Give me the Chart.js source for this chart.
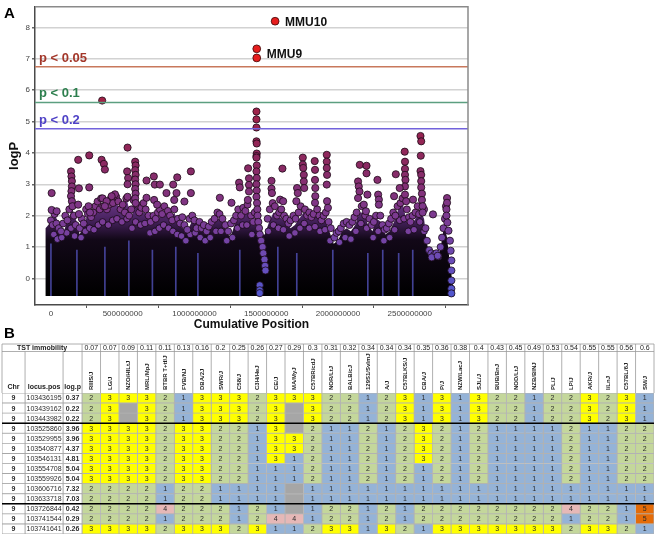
<!DOCTYPE html>
<html>
<head>
<meta charset="utf-8">
<script src="https://cdn.jsdelivr.net/npm/chart.js@4.4.0/dist/chart.umd.min.js"></script>
<style>
  body { margin: 0; background: #fff; width: 662px; height: 537px; overflow: hidden; position: relative; font-family: "Liberation Sans", Arial, sans-serif; }
  #wrapA { position: absolute; left: 0; top: 0; }
  #wrapB { position: absolute; left: 0; top: 343px; }
  .panel { position: absolute; font-weight: bold; font-size: 15px; line-height: 15px; }
</style>
</head>
<body>
<div id="wrapA"><canvas id="manhattan" width="662" height="338"></canvas></div>
<div id="wrapB"><canvas id="genotypes" width="662" height="194"></canvas></div>
<div class="panel" style="left:4px;top:5px">A</div>
<div class="panel" style="left:4px;top:325px">B</div>
<script>
// ---------- panel A : manhattan plot (positions in Mb, values = logP) ----------
const sigPoints = [[1562, 8.2], [1434, 7.32], [1434, 7.03]];
const locusLabels = ['MMU10', 'MMU9'];
const locusLabelAt = [[1562, 8.2], [1434, 7.18]];

const peakPoints = [
  [5,2.72],[5,2.18],[40,2.14],
  [140,3.41],[143,3.25],[146,3.1],[146,2.93],[143,2.78],[140,2.62],[146,2.46],[150,2.3],
  [190,3.78],[195,2.87],[190,2.35],[195,2.05],
  [267,3.92],[267,2.9],[262,2.3],[272,2.1],
  [357,5.67],[353,3.78],[369,3.65],[376,3.47],[360,2.55],
  [446,2.68],[423,2.62],[388,2.46],[376,2.3],
  [534,4.17],[531,3.41],[538,3.2],[534,3.0],[534,2.6],
  [587,3.72],[590,3.6],[587,3.45],[590,3.3],[587,3.15],[590,3.0],[587,2.85],[590,2.7],[587,2.55],[590,2.4],
  [666,3.12],[666,2.57],[717,3.25],[724,2.99],[759,2.99],[719,2.5],[740,2.35],
  [805,2.72],[852,2.99],[875,2.72],[880,3.22],[859,2.5],
  [975,3.41],[975,2.72],[930,2.45],
  [1177,2.57],[1258,2.41],[1311,3.05],[1316,2.9],
  [1374,3.51],[1380,3.19],[1380,2.98],[1380,2.77],[1372,2.5],
  [1432,5.32],[1432,5.07],[1432,4.81],[1432,4.37],[1434,4.3],[1434,3.98],[1432,3.9],[1432,3.85],
  [1434,3.6],[1432,3.41],[1434,3.2],[1432,3.0],[1434,2.8],[1432,2.6],[1436,2.4],[1438,2.2],
  [1440,2.0],[1445,1.8],[1450,1.6],[1455,1.4],[1465,1.2],[1475,1.0],[1480,0.8],[1488,0.6],
  [1492,0.4],[1495,0.25],[1455,-0.22],[1455,-0.38],[1455,-0.47],
  [1537,3.11],[1537,2.86],[1540,2.72],
  [1613,3.5],[1597,2.51],[1618,2.46],
  [1715,2.88],[1720,2.72],[1710,2.46],
  [1755,3.85],[1755,3.63],[1758,3.52],[1762,3.3],[1762,3.09],[1765,2.88],
  [1838,3.74],[1840,3.46],[1840,3.14],[1842,2.88],[1842,2.62],[1840,2.41],
  [1922,3.94],[1922,3.72],[1922,3.52],[1924,3.3],[1922,2.99],[1924,2.46],[1930,2.25],
  [2152,3.62],[2199,3.59],[2199,3.35],[2140,3.09],[2145,2.93],[2150,2.77],[2140,2.56],[2180,2.35],[2195,2.14],
  [2275,3.14],[2280,2.67],[2285,2.51],[2285,2.35],[2205,2.67],
  [2403,3.32],[2465,4.04],[2467,3.72],[2467,3.49],[2467,3.3],[2470,3.14],[2467,2.93],[2467,2.67],[2475,2.46],[2430,2.88],[2391,2.62],
  [2575,4.54],[2580,4.37],[2577,3.91],[2575,3.42],[2580,3.3],[2580,3.1],[2580,2.9],[2585,2.7],[2585,2.5],[2590,2.3],[2590,2.1],[2523,2.51],[2662,2.04],
  [2760,2.56],[2760,2.41],[2756,2.2],[2756,2.0],[2762,1.78],[2770,1.52],[2780,1.2],[2785,0.88],[2790,0.57],[2790,0.25],[2790,-0.07],[2790,-0.33],[2790,-0.48],
  [2653,0.67],[2695,0.72]
];

// upper band of the dense marker mass
const midPoints = [
  [0,1.85],[12,1.7],[25,2.05],[38,1.75],[55,1.6],[70,1.5],[85,1.75],[100,2.0],[115,1.85],[128,2.2],[160,2.0],[172,1.7],
  [200,1.6],[215,1.9],[228,1.75],[245,2.2],[258,2.05],[280,1.95],[295,2.1],[310,2.3],[325,2.45],[340,2.2],[350,2.55],[365,2.3],
  [390,2.2],[405,2.35],[418,2.55],[432,2.4],[455,2.6],[470,2.45],[485,2.2],[500,2.35],[515,2.1],[525,2.55],[545,2.0],
  [560,2.2],[575,2.5],[600,2.35],[615,2.1],[630,2.25],[645,2.4],[660,2.2],[680,2.0],[695,1.8],
  [715,2.0],[730,1.9],[745,2.1],[760,2.2],[775,2.05],[790,2.3],[815,2.15],[830,2.0],[845,1.85],[860,2.2],
  [885,1.9],[900,1.75],[915,1.95],[930,1.7],[950,1.55],[965,1.9],[985,2.0],[1000,1.85],[1015,1.6],
  [1035,1.8],[1050,1.6],[1065,1.7],[1085,1.5],[1100,1.65],[1120,1.8],[1140,1.9],[1160,2.1],[1175,2.05],[1195,1.9],
  [1215,1.7],[1235,1.5],[1255,1.75],[1275,1.85],[1290,2.0],[1305,2.2],
  [1325,2.0],[1340,2.25],[1355,2.15],[1370,2.35],[1395,2.0],[1410,1.8],[1420,2.1],[1510,1.9],[1525,2.2],[1545,2.4],[1560,2.3],[1575,2.0],
  [1590,2.1],[1605,2.2],[1625,2.0],[1640,1.9],[1655,1.75],[1670,1.85],[1690,2.0],[1705,1.9],
  [1725,2.1],[1740,2.3],[1770,2.2],[1785,2.0],[1800,2.1],[1815,1.95],[1830,2.05],[1855,2.2],[1870,2.0],[1885,1.85],[1900,2.0],[1915,2.1],[1935,1.8],[1950,1.6],
  [1975,1.3],[1990,1.45],[2005,1.5],[2020,1.6],[2040,1.75],[2060,1.8],[2080,1.7],[2100,1.8],[2115,1.95],[2130,2.1],[2165,2.3],[2190,2.0],
  [2220,1.9],[2235,1.7],[2250,1.8],[2265,2.0],[2295,2.0],[2310,1.7],[2325,1.55],[2340,1.6],[2355,1.75],[2370,1.9],[2385,2.1],[2400,2.0],[2415,2.3],
  [2435,2.4],[2450,2.55],[2480,2.2],[2495,1.95],[2505,1.8],[2520,2.0],[2540,2.1],[2555,2.3],[2565,2.05],[2600,2.2],[2610,1.6],
  [2620,1.2],[2635,0.9],[2650,0.8],[2670,0.75],[2685,0.8],[2700,0.7],[2715,1.0],[2725,1.3],[2735,1.6],[2745,1.9],[2752,2.3]
];

// lower band, partly buried in the black mass
const lowPoints = [
  [20,1.4],[45,1.25],[75,1.3],[110,1.45],[140,1.6],[165,1.35],[210,1.3],[240,1.5],[270,1.6],[300,1.55],[330,1.7],[360,1.8],
  [400,1.7],[430,1.85],[460,1.9],[495,1.8],[530,1.9],[565,1.6],[590,1.8],[625,1.7],[655,1.75],[690,1.45],[725,1.5],[755,1.6],
  [785,1.7],[820,1.6],[850,1.5],[880,1.4],[910,1.35],[940,1.2],[970,1.4],[1005,1.45],[1040,1.3],[1075,1.2],[1110,1.3],[1150,1.5],
  [1185,1.5],[1225,1.2],[1265,1.3],[1300,1.6],[1335,1.7],[1365,1.7],[1400,1.4],[1515,1.5],[1550,1.7],[1585,1.6],[1620,1.55],
  [1660,1.35],[1700,1.45],[1735,1.6],[1765,1.75],[1800,1.6],[1840,1.65],[1875,1.5],[1910,1.55],[1945,1.2],[2010,1.15],[2050,1.3],
  [2090,1.25],[2125,1.5],[2160,1.75],[2200,1.6],[2245,1.3],[2280,1.5],[2320,1.2],[2360,1.3],[2395,1.55],[2430,1.85],[2460,1.9],
  [2490,1.5],[2530,1.55],[2570,1.8],[2600,1.5]
];

// top of the dense mass of small markers
const massEnvelope = [
  [-40,-0.56],[-38,1.6],[0,1.8],[30,2.0],[60,1.7],[90,1.5],[120,1.9],[150,2.2],[180,1.8],[200,1.4],[230,1.7],[260,2.1],
  [290,1.9],[320,2.2],[350,2.4],[380,2.2],[410,2.2],[440,2.5],[470,2.3],[500,2.2],[530,2.5],[560,1.9],[590,2.5],[620,2.1],
  [650,2.1],[680,2.0],[710,1.8],[740,1.9],[770,2.0],[800,2.1],[830,1.9],[860,2.1],[890,1.7],[920,1.6],[950,1.5],[980,1.8],
  [1010,1.9],[1040,1.6],[1070,1.5],[1100,1.6],[1130,1.7],[1160,1.9],[1190,1.9],[1220,1.5],[1250,1.3],[1280,1.7],[1310,2.0],
  [1340,2.1],[1370,2.1],[1400,1.7],[1430,1.9],[1460,1.4],[1490,1.4],[1520,1.8],[1550,2.1],[1580,2.0],[1610,1.9],[1640,1.8],
  [1670,1.6],[1700,1.7],[1730,1.9],[1760,2.1],[1790,1.9],[1820,1.9],[1850,2.0],[1880,1.8],[1910,1.9],[1940,1.5],[1970,1.1],
  [2000,1.2],[2030,1.5],[2060,1.6],[2090,1.5],[2120,1.7],[2150,2.1],[2180,2.1],[2210,1.7],[2240,1.5],[2270,1.9],[2300,1.8],
  [2330,1.4],[2360,1.5],[2390,1.8],[2420,2.2],[2450,2.4],[2480,1.8],[2510,1.7],[2540,1.9],[2570,2.2],[2600,1.9],[2620,1.1],
  [2650,0.6],[2680,0.65],[2700,0.6],[2720,1.1],[2740,1.7],[2760,1.3],[2780,0.45],[2800,-0.2],[2812,-0.56]
];

// thin blue streaks at chromosome boundaries
const streaks = [[0,1.1],[181,0.9],[376,1.0],[543,1.2],[707,0.9],[870,1.0],[1024,0.8],[1316,0.9],[1581,1.0],[1713,0.8],[1964,0.9],[2208,0.8],[2312,0.9],[2423,0.8],[2521,0.9]];

const thresholdLabels = ['p < 0.05', 'p < 0.1', 'p < 0.2'];
const thresholdLogP = [6.75, 5.61, 4.77];
const xTicks = [0, 500, 1000, 1500, 2000, 2500];
const yTicks = [0, 1, 2, 3, 4, 5, 6, 7, 8];

// ---------- panel B : genotype table ----------
const strains = ['RIIIS/J','LG/J','NZO/HILtJ','MRL/MpJ','BTBR T+tf/J','FVB/NJ','DBA/2J','SWR/J','C58/J','C3H/HeJ','CE/J',
  'MA/MyJ','C57BR/cdJ','NOR/LtJ','BALB/cJ','129S1/SvImJ','A/J','C57BLKS/J','CBA/J','P/J','NZW/LacJ','SJL/J','BUB/BnJ',
  'NOD/LtJ','NZB/BlNJ','PL/J','LP/J','AKR/J','I/LnJ','C57BL/6J','SM/J'];
const strainP = ['0.07','0.07','0.09','0.11','0.11','0.13','0.16','0.2','0.25','0.26','0.27','0.29','0.3','0.31','0.32',
  '0.34','0.34','0.34','0.35','0.36','0.38','0.4','0.43','0.45','0.49','0.53','0.54','0.55','0.55','0.56','0.6'];
const lociChr = ['9','9','9','9','9','9','9','9','9','9','9','9','9','9'];
const lociPos = ['103436195','103439162','103443982','103525860','103529955','103540877','103546131','103554708',
  '103559926','103606716','103633718','103726844','103741544','103741641'];
const lociLogP = ['0.37','0.22','0.22','3.96','3.96','4.37','4.81','5.04','5.04','7.32','7.03','0.42','0.29','0.26'];
// 0 = missing
const genotypes = [
  [2,3,3,3,2,1,3,3, 3,2,3,3,3,2,2,1,2,3,1, 3,1,3,2,2,1,2,2,3,2,3,1],
  [2,3,0,3,2,1,3,3, 3,2,3,0,3,2,2,1,2,3,1, 3,1,3,2,2,1,2,2,3,2,3,1],
  [2,3,0,3,2,1,3,3, 3,2,3,0,3,2,2,1,2,3,1, 3,1,3,2,2,1,2,2,3,2,3,1],
  [3,3,3,3,2,3,3,2, 2,1,3,0,2,1,1,2,1,2,3, 2,1,2,1,1,1,1,2,1,1,2,2],
  [3,3,3,3,2,3,3,2, 2,1,3,3,2,1,1,2,1,2,3, 2,1,2,1,1,1,1,2,1,1,2,2],
  [3,3,3,3,2,3,3,2, 2,1,3,3,2,1,1,2,1,2,3, 2,1,2,1,1,1,1,2,1,1,2,2],
  [3,3,3,3,2,3,3,2, 2,1,3,1,2,1,1,2,1,2,3, 2,1,2,1,1,1,1,2,1,1,2,2],
  [3,3,3,3,2,3,3,2, 2,1,1,1,2,1,1,2,1,2,1, 2,1,2,1,1,1,1,2,1,1,2,2],
  [3,3,3,3,2,3,3,2, 2,1,1,1,2,1,1,2,1,2,1, 2,1,2,1,1,1,1,2,1,1,2,2],
  [2,2,2,2,1,2,2,1, 1,1,1,0,1,1,1,1,1,1,1, 1,1,1,1,1,1,1,1,1,1,1,1],
  [2,2,2,2,1,2,2,1, 1,1,1,0,1,1,1,1,1,1,1, 1,1,1,1,1,1,1,1,1,1,1,1],
  [2,2,2,2,4,2,2,2, 1,2,1,0,1,2,2,1,2,1,2, 2,2,2,2,2,2,2,4,2,2,1,5],
  [2,2,2,2,1,2,2,2, 1,2,4,4,1,2,2,1,2,1,2, 2,2,2,2,2,2,2,1,2,2,1,5],
  [3,3,3,3,2,3,3,3, 2,3,1,1,2,3,3,1,3,2,1, 3,3,3,3,3,3,3,2,3,3,2,1]
];

// ---------- styles ----------
const FONT = '"Liberation Sans", Arial, sans-serif';
const colorStops = [[-0.5,[82,86,205]],[0.5,[106,78,186]],[1.5,[120,64,158]],[2.5,[128,52,130]],[3.5,[137,42,100]],[4.5,[150,36,82]],[5.7,[162,34,70]]];
function pointColor(v) {
  const s = colorStops;
  if (v <= s[0][0]) return 'rgb(' + s[0][1].join(',') + ')';
  for (let i = 1; i < s.length; i++) {
    if (v <= s[i][0]) {
      const t = (v - s[i - 1][0]) / (s[i][0] - s[i - 1][0]);
      const c = s[i - 1][1].map((a, k) => Math.round(a + (s[i][1][k] - a) * t));
      return 'rgb(' + c.join(',') + ')';
    }
  }
  return 'rgb(' + s[s.length - 1][1].join(',') + ')';
}
const thresholdLine = ['#c8785c', '#5c9f80', '#7262dc'];
const thresholdText = ['#a3372a', '#2d7f4e', '#4f42c6'];
const genoColor = { 0: '#a6a6a6', 1: '#95b3d7', 2: '#c4d79b', 3: '#ffff00', 4: '#e6b8b7', 5: '#e46c0a' };
const X_MIN = -111, X_MAX = 2906;

const toXY = arr => arr.map(([x, y]) => ({ x, y }));

const manhattanLabels = {
  id: 'manhattanLabels',
  afterDatasetsDraw(chart) {
    const { ctx, chartArea: a, scales: { x, y } } = chart;
    ctx.save();
    ctx.font = 'bold 13px ' + FONT;
    ctx.textAlign = 'left';
    ctx.textBaseline = 'alphabetic';
    thresholdLabels.forEach((t, i) => {
      ctx.fillStyle = thresholdText[i];
      ctx.fillText(t, a.left + 4, y.getPixelForValue(thresholdLogP[i]) - 5);
    });
    ctx.font = 'bold 12px ' + FONT;
    ctx.fillStyle = '#111';
    ctx.textBaseline = 'middle';
    locusLabels.forEach((t, i) => {
      ctx.fillText(t, x.getPixelForValue(locusLabelAt[i][0]) + 10, y.getPixelForValue(locusLabelAt[i][1]) + 1);
    });
    // frame top / right
    ctx.strokeStyle = '#8a8a8a';
    ctx.lineWidth = 1.5;
    ctx.beginPath();
    ctx.moveTo(a.left, a.top); ctx.lineTo(a.right, a.top); ctx.lineTo(a.right, a.bottom);
    ctx.stroke();
    ctx.restore();
  }
};

const pointFill = c => pointColor(c.raw ? c.raw.y : 0);

new Chart(document.getElementById('manhattan'), {
  type: 'scatter',
  data: {
    datasets: [
      { label: 'significant', data: toXY(sigPoints), backgroundColor: '#e61d1d', borderColor: '#3a0808', borderWidth: 0.8, pointRadius: 3.9, order: 0 },
      ...thresholdLogP.map((v, i) => ({
        type: 'line', label: thresholdLabels[i], data: [{ x: X_MIN, y: v }, { x: X_MAX, y: v }],
        borderColor: thresholdLine[i], borderWidth: 1.6, pointRadius: 0, fill: false, order: 0.5
      })),
      { label: 'peaks', data: toXY(peakPoints), backgroundColor: pointFill, borderColor: '#1c0a16', borderWidth: 0.8, pointRadius: 3.6, order: 1 },
      { label: 'mid', data: toXY(midPoints), backgroundColor: pointFill, borderColor: '#1c0a16', borderWidth: 0.8, pointRadius: 3.5, order: 2 },
      { label: 'low', data: toXY(lowPoints), backgroundColor: pointFill, borderColor: '#120810', borderWidth: 0.8, pointRadius: 3.3, order: 3 },
      { type: 'bar', label: 'streaks', data: streaks.map(([x, h]) => ({ x, y: [-0.55, h] })), backgroundColor: 'rgba(92,92,210,0.7)', barThickness: 1, order: 4 },
      {
        type: 'line', label: 'mass', data: toXY(massEnvelope), pointRadius: 0, borderWidth: 0, tension: 0,
        fill: { value: -0.56 }, order: 5,
        backgroundColor: c => {
          const ch = c.chart;
          if (!ch.chartArea) return '#000';
          const ys = ch.scales.y;
          const g = ch.ctx.createLinearGradient(0, ys.getPixelForValue(2.5), 0, ys.getPixelForValue(-0.5));
          g.addColorStop(0, '#6e3889');
          g.addColorStop(0.22, '#45215c');
          g.addColorStop(0.42, '#120818');
          g.addColorStop(1, '#000');
          return g;
        }
      }
    ]
  },
  options: {
    responsive: false,
    animation: false,
    layout: { padding: { left: 0, right: 194, top: 3, bottom: 0 } },
    plugins: { legend: { display: false }, tooltip: { enabled: false } },
    scales: {
      x: {
        type: 'linear', min: X_MIN, max: X_MAX, offset: false,
        afterBuildTicks: s => { s.ticks = xTicks.map(v => ({ value: v })); },
        afterFit: s => { s.height = 33; },
        ticks: { callback: v => (v * 1000000).toFixed(0), font: { size: 8, family: FONT }, color: '#444', padding: 1, maxRotation: 0 },
        grid: { drawOnChartArea: false, tickLength: 3, color: '#555' },
        border: { color: '#4a4a4a', width: 1.5 },
        title: { display: true, text: 'Cumulative Position', font: { size: 12, weight: 'bold', family: FONT }, color: '#111', padding: { top: 0, bottom: 6 } }
      },
      y: {
        type: 'linear', min: -0.85, max: 8.66,
        afterBuildTicks: s => { s.ticks = yTicks.map(v => ({ value: v })); },
        afterFit: s => { s.width = 35; },
        ticks: { font: { size: 8, family: FONT }, color: '#444', padding: 2 },
        grid: { color: '#d2d2d2', lineWidth: 1.5, tickLength: 3, tickColor: '#666' },
        border: { color: '#4a4a4a', width: 1.5 },
        title: { display: true, text: 'logP', font: { size: 13, weight: 'bold', family: FONT }, color: '#111', padding: { top: 7, bottom: 0 } }
      }
    }
  },
  plugins: [manhattanLabels]
});

// ---------- table chart ----------
const leftCols = [[-4.34, -3.09], [-3.09, -1.03], [-1.03, 0]];
const leftHeads = ['Chr', 'locus.pos', 'log.p'];
const leftText = [lociChr, lociPos, lociLogP];
const leftFonts = ['bold 7px ', '7px ', 'bold 7px '];

const tableDatasets = [];
leftCols.forEach((edge, c) => {
  tableDatasets.push({
    label: leftHeads[c], data: lociPos.map(() => edge), cellText: leftText[c], cellFont: leftFonts[c] + FONT,
    backgroundColor: '#ffffff', borderColor: '#a8a8a8', borderWidth: 0.8
  });
});
strains.forEach((s, j) => {
  const col = genotypes.map(r => r[j]);
  tableDatasets.push({
    label: s, data: lociPos.map(() => [j, j + 1]), cellText: col.map(g => g ? String(g) : ''), cellFont: '7px ' + FONT,
    backgroundColor: col.map(g => genoColor[g]), borderColor: '#b2b2b2', borderWidth: 0.8
  });
});

const tablePlugin = {
  id: 'tableDecor',
  afterDatasetsDraw(chart) {
    const { ctx, chartArea: a, scales: { x, y } } = chart;
    ctx.save();
    chart.data.datasets.forEach((ds, i) => {
      const meta = chart.getDatasetMeta(i);
      ctx.font = ds.cellFont;
      ctx.fillStyle = '#2a2a2a';
      ctx.textAlign = 'center';
      ctx.textBaseline = 'middle';
      meta.data.forEach((el, r) => {
        const t = ds.cellText[r];
        if (t) ctx.fillText(t, (el.x + el.base) / 2, el.y + 0.5);
      });
    });
    const L = x.getPixelForValue(leftCols[0][0]), R = x.getPixelForValue(strains.length);
    const top = 1, mid = 8.5, bot = a.top;
    ctx.strokeStyle = '#9a9a9a';
    ctx.lineWidth = 0.8;
    ctx.beginPath();
    ctx.moveTo(L, top); ctx.lineTo(R, top);
    ctx.moveTo(L, mid); ctx.lineTo(R, mid);
    ctx.moveTo(L, top); ctx.lineTo(L, bot);
    leftCols.forEach(e => { const px = x.getPixelForValue(e[1]); ctx.moveTo(px, px === x.getPixelForValue(0) ? top : mid); ctx.lineTo(px, bot); });
    for (let j = 1; j <= strains.length; j++) { const px = x.getPixelForValue(j); ctx.moveTo(px, top); ctx.lineTo(px, bot); }
    ctx.stroke();
    // header texts
    ctx.fillStyle = '#222';
    ctx.textAlign = 'center';
    ctx.textBaseline = 'middle';
    ctx.font = 'bold 7px ' + FONT;
    ctx.fillText('TST immobility', (L + x.getPixelForValue(0)) / 2, (top + mid) / 2 + 0.5);
    leftCols.forEach((e, c) => ctx.fillText(leftHeads[c], (x.getPixelForValue(e[0]) + x.getPixelForValue(e[1])) / 2, bot - 6));
    ctx.font = '7px ' + FONT;
    strainP.forEach((p, j) => ctx.fillText(p, x.getPixelForValue(j + 0.5), (top + mid) / 2 + 0.5));
    ctx.font = 'bold 6px ' + FONT;
    ctx.textAlign = 'left';
    strains.forEach((s, j) => {
      ctx.save();
      ctx.translate(x.getPixelForValue(j + 0.5) + 0.5, bot - 3);
      ctx.rotate(-Math.PI / 2);
      ctx.fillText(s, 0, 0);
      ctx.restore();
    });
    // thick separators between locus blocks
    ctx.strokeStyle = '#000';
    ctx.lineWidth = 1.4;
    [3, 11].forEach(r => {
      const yy = (y.getPixelForValue(r - 1) + y.getPixelForValue(r)) / 2;
      ctx.beginPath(); ctx.moveTo(L, yy); ctx.lineTo(R, yy); ctx.stroke();
    });
    ctx.restore();
  }
};

new Chart(document.getElementById('genotypes'), {
  type: 'bar',
  data: { labels: lociPos, datasets: tableDatasets },
  options: {
    indexAxis: 'y',
    responsive: false,
    animation: false,
    layout: { padding: { left: 2, right: 8, top: 50, bottom: 3 } },
    datasets: { bar: { grouped: false, barPercentage: 1, categoryPercentage: 1, borderSkipped: false } },
    plugins: { legend: { display: false }, tooltip: { enabled: false } },
    scales: {
      x: { type: 'linear', min: -4.34, max: strains.length, display: false },
      y: { type: 'category', display: false }
    }
  },
  plugins: [tablePlugin]
});
</script>
</body>
</html>
